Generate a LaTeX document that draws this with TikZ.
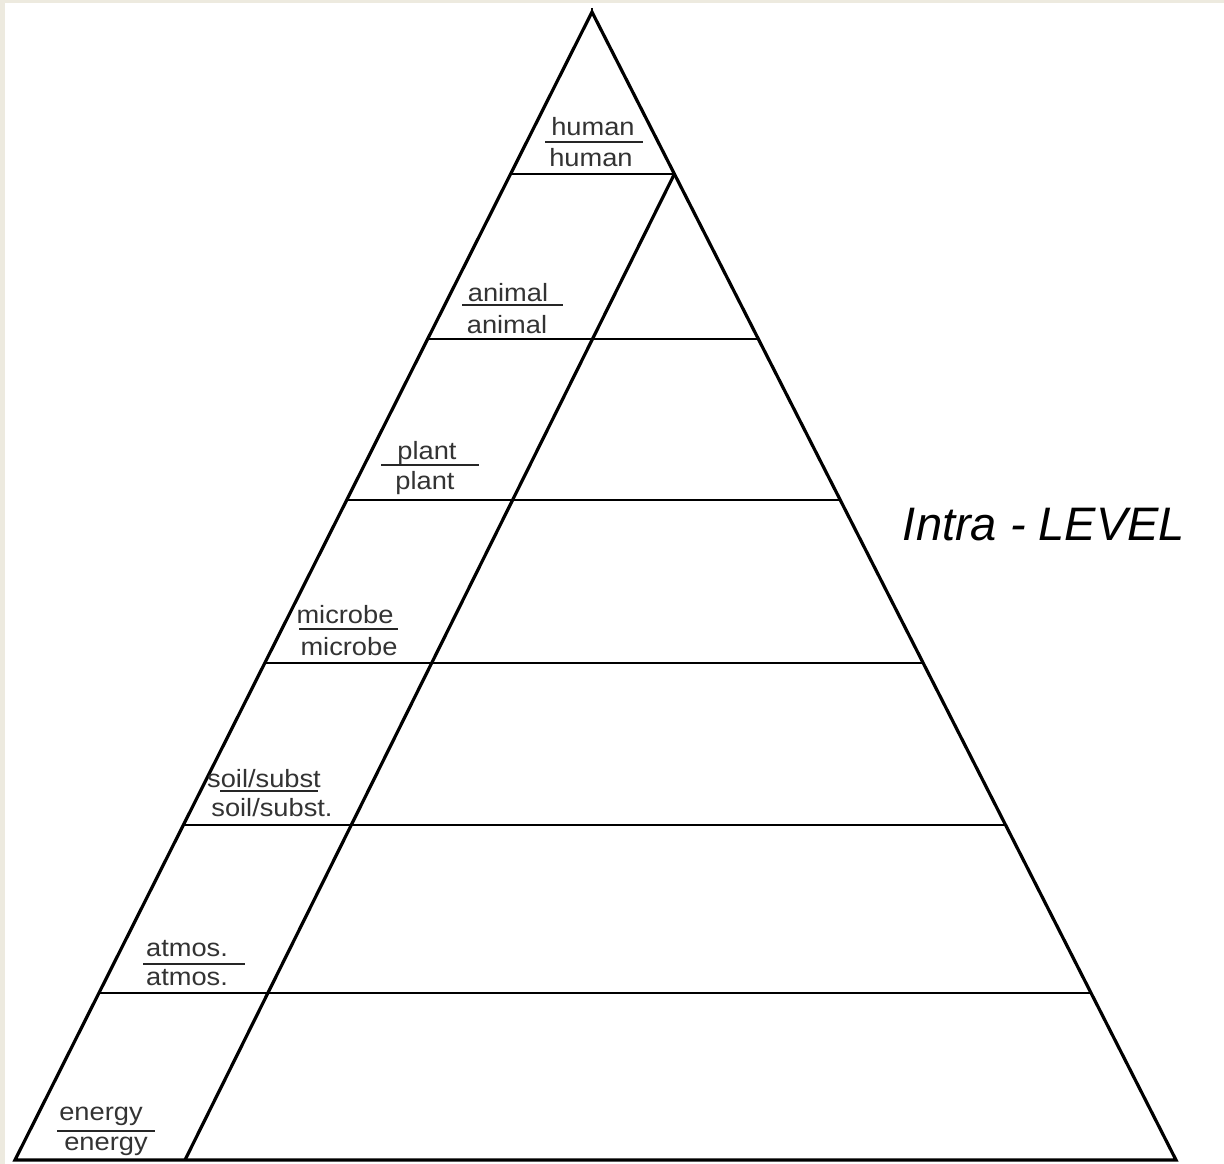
\documentclass[tikz,border=0pt]{standalone}
\usepackage{fontspec}
\setmainfont{Liberation Sans}
\usetikzlibrary{calc}
\definecolor{frame}{HTML}{EDEADF}
\begin{document}
\begin{tikzpicture}[x=1pt,y=-1pt,
  edge/.style={line width=3.2pt,line join=miter},
  rung/.style={line width=2.2pt},
  word/.style={inner sep=0pt,xscale=1.09,font=\fontsize{25}{25}\selectfont,text=black!80,anchor=center},
  bar/.style={line width=2.2pt,black!85}]
\useasboundingbox (0,0) rectangle (1224,1164);
\fill[frame] (0,0) rectangle (1224,1164);
\fill[white] (5,3) rectangle (1224,1164);
% outer triangle
\coordinate (A) at (592,12);
\coordinate (BL) at (15,1160);
\coordinate (BR) at (1176,1160);
\draw[edge] (BL) -- (A) -- (BR) -- cycle;
\draw[line width=2pt] (592,8) -- (592,13);
% horizontal rungs
\foreach \t/\n in {0.1411/1,0.2848/2,0.4251/3,0.5671/4,0.7082/5,0.8545/6}{
  \coordinate (l\n) at ($(A)!\t!(BL)$);
  \coordinate (r\n) at ($(A)!\t!(BR)$);
  \draw[rung] (l\n) -- (r\n);
}
% inner diagonal
\coordinate (IB) at (185,1160);
\draw[edge] (r1) -- (IB);
% labels
\foreach \n/\tx/\ty/\bx/\by/\la/\lb/\ly/\ta/\tb in {
  hu/593/127/591/158/545/643/142/human/human,
  an/508/293/507/325/462/563/305/animal/animal,
  pl/427/453/425/483/381/479/465/plant/plant,
  mi/345/615/349/647/299/398/629/microbe/microbe,
  so/264/779/272/808/220/318/791/soil\slash subst/soil\slash subst.,
  at/187/949/187/978/143/245/964/atmos./atmos.,
  en/101/1116/106/1146/57/155/1131/energy/energy}{
  \node[word] (\n t) at (\tx,\ty) {\ta};
  \node[word] (\n b) at (\bx,\by) {\tb};
  \draw[bar] (\la,\ly) -- (\lb,\ly);
}
\node[inner sep=0pt,font=\fontsize{47}{47}\selectfont\itshape] (lvl) at (1044,525) {Intra - LEVEL};
\end{tikzpicture}
\end{document}
